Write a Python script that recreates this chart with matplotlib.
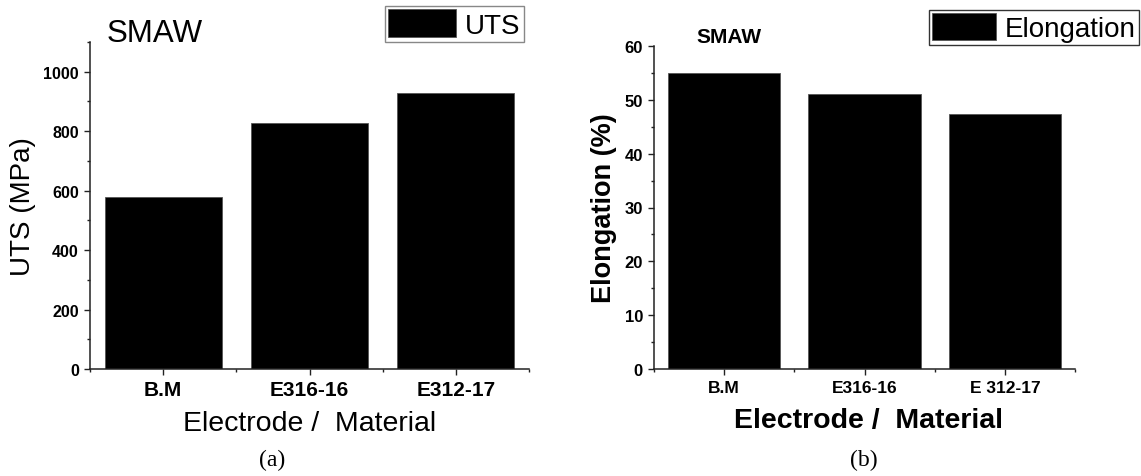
import matplotlib
matplotlib.use("Agg")
import matplotlib.pyplot as plt
from matplotlib.ticker import MultipleLocator, FixedLocator

plt.rcParams["font.family"] = ["Liberation Sans", "DejaVu Sans"]

# data
cats_a = ["B.M", "E316-16", "E312-17"]
uts = [580, 827, 930]
cats_b = ["B.M", "E316-16", "E 312-17"]
elong = [55.0, 51.1, 47.4]

W, H = 1141, 477
fig = plt.figure(figsize=(W / 100, H / 100), dpi=100)


def px(x0, y0, x1, y1):
    return [x0 / W, 1 - y1 / H, (x1 - x0) / W, (y1 - y0) / H]


def style_axes(ax, xfs, yfs):
    for s in ["top", "right"]:
        ax.spines[s].set_visible(False)
    for s in ["left", "bottom"]:
        ax.spines[s].set_linewidth(1.1)
        ax.spines[s].set_color("#222222")
    ax.tick_params(which="major", direction="out", length=4.5, width=1.0, color="#222222")
    ax.tick_params(which="minor", direction="out", length=2.5, width=1.0, color="#222222")
    ax.xaxis.set_minor_locator(FixedLocator([-0.5, 0.5, 1.5, 2.5]))
    for lab in ax.get_xticklabels():
        lab.set_fontweight("bold")
        lab.set_fontsize(xfs)
    for lab in ax.get_yticklabels():
        lab.set_fontweight("bold")
        lab.set_fontsize(yfs)


# (a) UTS
ax1 = fig.add_axes(px(90, 43, 529, 370))
ax1.bar(range(len(cats_a)), uts, width=0.8, color="black", edgecolor="#555555",
        linewidth=0.6, label="UTS")
ax1.set_xlim(-0.5, 2.5)
ax1.set_ylim(0, 1100)
ax1.set_xticks(range(len(cats_a)))
ax1.set_xticklabels(cats_a)
ax1.yaxis.set_major_locator(MultipleLocator(200))
ax1.yaxis.set_minor_locator(MultipleLocator(100))
style_axes(ax1, 15, 11.5)
ax1.set_ylabel("UTS (MPa)", fontsize=20)
ax1.yaxis.set_label_coords(-0.122, 0.5)
ax1.set_xlabel("Electrode /  Material", fontsize=20.5)
ax1.xaxis.set_label_coords(0.5, -0.125)
ax1.xaxis.label.set_va("top")
fig.text(107 / W, 1 - 42 / H, "SMAW", fontsize=22.5, ha="left", va="baseline")
leg1 = ax1.legend(loc="upper right", bbox_to_anchor=(524 / W, 1 - 7 / H),
                  bbox_transform=fig.transFigure, fontsize=20, fancybox=False,
                  edgecolor="#888888", framealpha=1, borderpad=0.12,
                  handlelength=2.45, handleheight=1.15, handletextpad=0.32,
                  borderaxespad=0)
leg1.get_frame().set_linewidth(1.0)

# (b) Elongation
ax2 = fig.add_axes(px(654, 47, 1075, 370))
ax2.bar(range(len(cats_b)), elong, width=0.8, color="black", edgecolor="#555555",
        linewidth=0.6, label="Elongation")
ax2.set_xlim(-0.5, 2.5)
ax2.set_ylim(0, 60)
ax2.set_xticks(range(len(cats_b)))
ax2.set_xticklabels(cats_b)
ax2.yaxis.set_major_locator(MultipleLocator(10))
ax2.yaxis.set_minor_locator(MultipleLocator(5))
style_axes(ax2, 12.5, 12)
ax2.set_ylabel("Elongation (%)", fontsize=19.5, fontweight="bold")
ax2.yaxis.set_label_coords(-0.088, 0.5)
ax2.set_xlabel("Electrode /  Material", fontsize=20.5, fontweight="bold")
ax2.xaxis.set_label_coords(0.51, -0.118)
ax2.xaxis.label.set_va("top")
fig.text(696 / W, 1 - 43 / H, "SMAW", fontsize=15, fontweight="bold",
         ha="left", va="baseline")
leg2 = ax2.legend(loc="upper left", bbox_to_anchor=(929 / W, 1 - 11 / H),
                  bbox_transform=fig.transFigure, fontsize=20, fancybox=False,
                  edgecolor="#333333", framealpha=1, borderpad=0.12,
                  handlelength=2.3, handleheight=1.1, handletextpad=0.32,
                  borderaxespad=0)
leg2.get_frame().set_linewidth(1.0)

fig.text(272 / W, 1 - 460 / H, "(a)", fontsize=17, family="Liberation Serif",
         ha="center", va="center")
fig.text(864 / W, 1 - 460 / H, "(b)", fontsize=17, family="Liberation Serif",
         ha="center", va="center")

fig.savefig("out.png", dpi=100)
